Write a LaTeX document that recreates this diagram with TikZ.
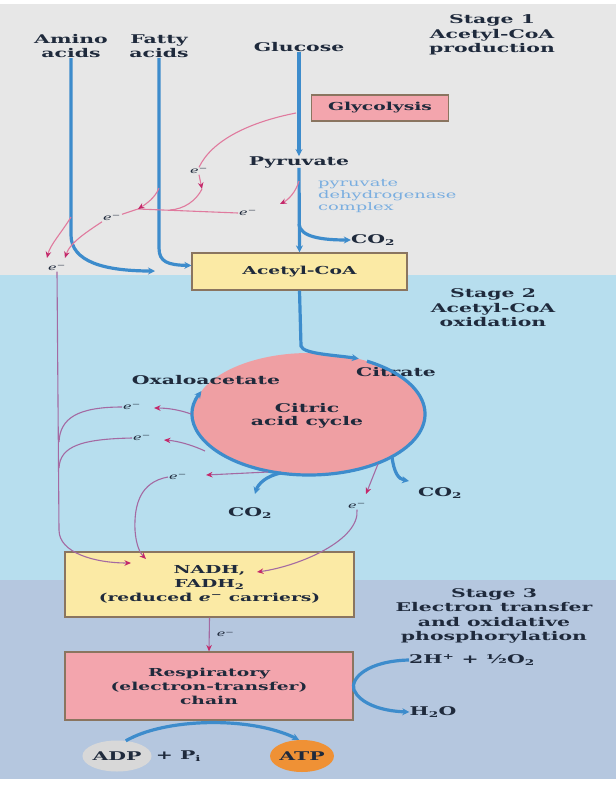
\documentclass[tikz,border=0pt]{standalone}
\usepackage{fontspec}
\setmainfont{DejaVu Serif}[FakeStretch=1.7]
\usetikzlibrary{arrows.meta}
\usetikzlibrary{shapes.geometric}

\definecolor{inkc}{HTML}{1F2A3C}
\definecolor{flowc}{HTML}{3D8CCC}
\definecolor{pdhblue}{HTML}{7AAEE0}
\definecolor{pinkbox}{HTML}{F3A5AD}
\definecolor{yellowbox}{HTML}{FBEAA5}
\definecolor{boxedge}{HTML}{8A7560}
\definecolor{cycpink}{HTML}{EF9FA3}
\definecolor{adpgray}{HTML}{D8D8D8}
\definecolor{atporange}{HTML}{EF9135}
\definecolor{elineA}{HTML}{E07A9E}
\definecolor{elineB}{HTML}{A46AA2}
\definecolor{etipc}{HTML}{C4286A}
\definecolor{stageA}{HTML}{E7E7E7}
\definecolor{stageB}{HTML}{B7DEEE}
\definecolor{stageC}{HTML}{B5C7DF}

\newcommand{\elec}{\textit{e}\textsuperscript{−}}

\begin{document}
\begin{tikzpicture}[x=1pt,y=-1pt,
    lbl/.style={font=\bfseries\fontsize{12}{14.5}\selectfont, text=inkc, align=center, inner sep=0pt},
    boxlbl/.style={draw=boxedge, line width=1.2pt, font=\bfseries\fontsize{11}{14}\selectfont, text=inkc, align=center},
    flow/.style={draw=flowc, line width=3.2pt, -{Stealth[length=7pt,width=7pt]}},
    elab/.style={font=\fontsize{8.5}{8.5}\selectfont, text=inkc, inner sep=1pt},
    etip/.style={-{Stealth[length=6.5pt,width=5.5pt,color=etipc]}},
    epath/.style={draw=elineA, line width=1.1pt},
    epathb/.style={draw=elineB, line width=1.1pt}]
    \useasboundingbox (0,0) rectangle (616,785);

    % Stage bands
    \fill[white] (0,0) rectangle (616,785);
    \fill[stageA] (0,4) rectangle (616,275);
    \fill[stageB] (0,275) rectangle (616,580);
    \fill[stageC] (0,580) rectangle (616,779);

    % Stage 1 nodes
    \node[lbl] (amino) at (71,46) {Amino\\acids};
    \node[lbl] (fatty) at (159,46) {Fatty\\acids};
    \node[lbl] (glucose) at (299,47) {Glucose};
    \node[lbl] (stage1) at (492,35) {Stage 1\\Acetyl-CoA\\production};
    \node[boxlbl, fill=pinkbox, minimum width=137pt, minimum height=26pt] (glyco) at (380,108) {Glycolysis};
    \node[lbl] (pyruvate) at (299,162) {Pyruvate};
    \node[font=\fontsize{10.5}{12}\selectfont, text=pdhblue, align=left, anchor=west, inner sep=0pt] (pdh) at (318,196) {pyruvate\\dehydrogenase\\complex};
    \node[lbl] (co2a) at (373,240) {CO\textsubscript{2}};
    \node[boxlbl, fill=yellowbox, minimum width=215pt, minimum height=37pt] (acetyl) at (299.5,271.5) {Acetyl-CoA};

    % Stage 2 nodes
    \node[lbl] (stage2) at (493,308) {Stage 2\\Acetyl-CoA\\oxidation};
    \node[ellipse, fill=cycpink, minimum width=232pt, minimum height=122pt, inner sep=0pt] (cycle) at (309,414) {};
    \node[lbl, font=\bfseries\fontsize{12}{13.5}\selectfont] (cyctext) at (307,416) {Citric\\acid cycle};
    \node[lbl] (oxa) at (206,380) {Oxaloacetate};
    \node[lbl] (citrate) at (396,372) {Citrate};
    \node[lbl] (co2b) at (250,513) {CO\textsubscript{2}};
    \node[lbl] (co2c) at (440,493) {CO\textsubscript{2}};
    \node[boxlbl, fill=yellowbox, minimum width=289pt, minimum height=65pt] (nadh) at (209.5,584.5) {NADH,\\FADH\textsubscript{2}\\(reduced \elec{} carriers)};

    % Stage 3 nodes
    \node[lbl] (stage3) at (494,616) {Stage 3\\Electron transfer\\and oxidative\\phosphorylation};
    \node[boxlbl, fill=pinkbox, minimum width=288pt, minimum height=68pt] (resp) at (209,686) {Respiratory\\(electron-transfer)\\chain};
    \node[lbl] (hion) at (472,660) {2H\textsuperscript{+} + ½O\textsubscript{2}};
    \node[lbl] (water) at (433,712) {H\textsubscript{2}O};
    \node[ellipse, fill=adpgray, minimum width=55pt, minimum height=31pt, inner sep=0pt, lbl] (adp) at (117,756) {ADP};
    \node[lbl, anchor=west] (pi) at ([xshift=4pt]adp.east) {+ P\textsubscript{i}};
    \node[ellipse, fill=atporange, minimum width=62pt, minimum height=32pt, inner sep=0pt, lbl] (atp) at (302,756) {ATP};

    % Blue carbon flow
    \draw[flow] (glucose.south) -- (pyruvate.north);
    \draw[flow] (pyruvate.south) -- (acetyl.north);
    \coordinate (pdhsplit) at (299,224);
    \draw[flow] (pdhsplit) .. controls (300,237) and (322,240) .. (co2a.west);
    \coordinate (aminoend) at (155,271);
    \draw[flow] (amino.south) -- (71,235) .. controls (71,262) and (105,271) .. (aminoend);
    \draw[flow] (fatty.south) -- (159,248) .. controls (159,262) and (168,265) .. ([yshift=6pt]acetyl.west);
    \draw[flow] (acetyl.south) -- (301,346) .. controls (303,354) and (335,355) .. (cycle.48);
    \draw[flow] (309,414) ++(-60:116 and 61) arc[start angle=-60, end angle=202, x radius=116, y radius=61];
    \coordinate (co2cend) at (409,481);
    \draw[flow] (392,457) .. controls (394,472) and (398,479) .. (co2cend);
    \coordinate (co2bend) at (255,494);
    \draw[flow] (281,473) .. controls (266,476) and (258,484) .. (co2bend);
    \draw[flow] (hion.west) .. controls (368,661) and (350,678) .. (354,690) .. controls (360,703) and (380,711) .. (water.west);
    \draw[flow] (adp.60) .. controls (165,718) and (250,716) .. (atp.100);

    % Electrons, stage 1
    \coordinate (glyout) at (296,113);
    \node[elab] (eg) at (199,171) {\elec};
    \draw[epath] (glyout) .. controls (250,122) and (212,140) .. (eg.north);
    \coordinate (ag) at (202,189);
    \draw[epath, etip] (eg.south) -- (ag);
    \coordinate (af) at (138,209);
    \coordinate (mg) at (170,210);
    \draw[epath] (ag) .. controls (196,201) and (184,209) .. (mg);
    \coordinate (pyrout) at (299,181);
    \coordinate (ap) at (280,204);
    \draw[epath, etip] (pyrout) .. controls (296,192) and (288,200) .. (ap);
    \node[elab] (ep) at (248,213) {\elec};
    \draw[epath] (ep.west) -- (af);
    \coordinate (fatout) at (159,188);
    \draw[epath, etip] (fatout) .. controls (155,198) and (146,204) .. (af);
    \node[elab] (ea) at (112,218) {\elec};
    \draw[epath] (af) -- (ea.north east);
    \coordinate (aa) at (65,258);
    \draw[epath, etip] (ea.south west) .. controls (90,230) and (70,242) .. (aa);
    \coordinate (aminoout) at (71,217);
    \coordinate (am) at (47,258);
    \draw[epath, etip] (aminoout) .. controls (62,232) and (50,245) .. (am);
    \node[elab] (e0) at (57,268) {\elec};

    % Electrons, stage 2
    \coordinate (nin1) at (131,563);
    \coordinate (nin2) at (146,559);
    \coordinate (nin3) at (257,572);
    \draw[epathb, etip] (e0.south) -- (59,530) .. controls (59,553) and (95,563) .. (nin1);
    \coordinate (r1) at (191,414);
    \coordinate (a1) at (154,408);
    \node[elab] (e1) at (132,407) {\elec};
    \draw[epathb, etip] (r1) .. controls (180,410) and (168,408) .. (a1);
    \draw[epathb] (e1.west) .. controls (78,407) and (60,418) .. (59,442);
    \coordinate (r2) at (205,451);
    \coordinate (a2) at (164,440);
    \node[elab] (e2) at (142,438) {\elec};
    \draw[epathb, etip] (r2) .. controls (192,445) and (178,441) .. (a2);
    \draw[epathb] (e2.west) .. controls (82,439) and (60,446) .. (59,468);
    \coordinate (r3) at (268,472);
    \coordinate (a3) at (206,475);
    \node[elab] (e3) at (178,477) {\elec};
    \draw[epathb, etip] (r3) -- (a3);
    \draw[epathb, etip] (e3.west) .. controls (140,482) and (134,505) .. (135,530) .. controls (136,545) and (140,553) .. (nin2);
    \coordinate (r4) at (378,464);
    \coordinate (a4) at (366,494);
    \node[elab] (e4) at (357,506) {\elec};
    \draw[epathb, etip] (r4) -- (a4);
    \draw[epathb, etip] (e4.south) .. controls (360,540) and (300,566) .. (nin3);

    % Electrons, stage 3
    \draw[epathb, etip] (nadh.south) -- node[elab, right=6pt] (e5) {\elec} (resp.north);
\end{tikzpicture}
\end{document}
